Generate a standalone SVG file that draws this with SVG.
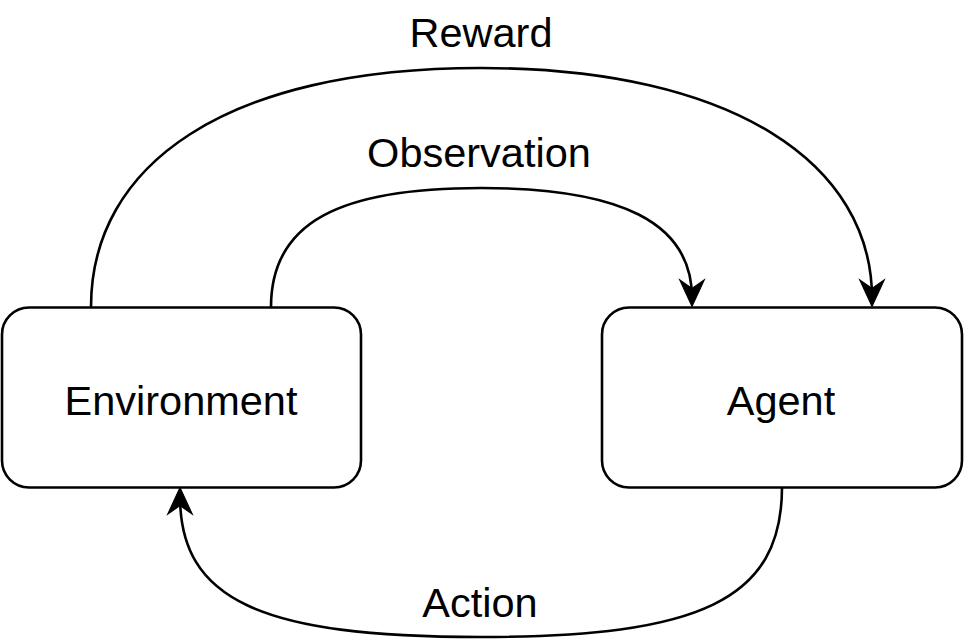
<svg xmlns="http://www.w3.org/2000/svg" width="966" height="639" viewBox="0 0 966 639">
<style>
.box{fill:#fff;stroke:#000;stroke-width:2.6}
.edge{fill:none;stroke:#000;stroke-width:2.6}
.t{font-family:"Liberation Sans",Arial,Helvetica,sans-serif;font-size:41.5px;fill:#000;text-anchor:middle}
</style>
<defs>
<marker id="arr" markerUnits="userSpaceOnUse" markerWidth="30" markerHeight="30" viewBox="-26 -13 28 26" refX="-8" refY="0" orient="auto" overflow="visible">
<path d="M0,0 L-25,-11.5 L-17,0 L-25,11.5 Z" fill="#000" stroke="#000" stroke-width="1" stroke-linejoin="miter"/>
</marker>
</defs>
<rect width="966" height="639" fill="#fff"/>
<g id="connectors">
<path class="edge" d="M91,307 C91,165 225,68 481,68 C735,68 872,165 872,298" marker-end="url(#arr)"/>
<path class="edge" d="M271,307 C271,222 340,188 481,188 C620,188 692,222 692,298" marker-end="url(#arr)"/>
<path class="edge" d="M782,487 C782,600 700,637 481,637 C260,637 180,600 180,496" marker-end="url(#arr)"/>
</g>
<g id="environment">
<rect class="box" x="2" y="307.5" width="359" height="180" rx="27" ry="27"/>
<text class="t" x="181" y="415">Environment</text>
</g>
<g id="agent">
<rect class="box" x="602" y="307.5" width="360" height="180" rx="27" ry="27"/>
<text class="t" x="781" y="415">Agent</text>
</g>
<g id="labels">
<text class="t" x="481" y="47">Reward</text>
<text class="t" x="479" y="167">Observation</text>
<text class="t" x="480" y="617">Action</text>
</g>
</svg>
